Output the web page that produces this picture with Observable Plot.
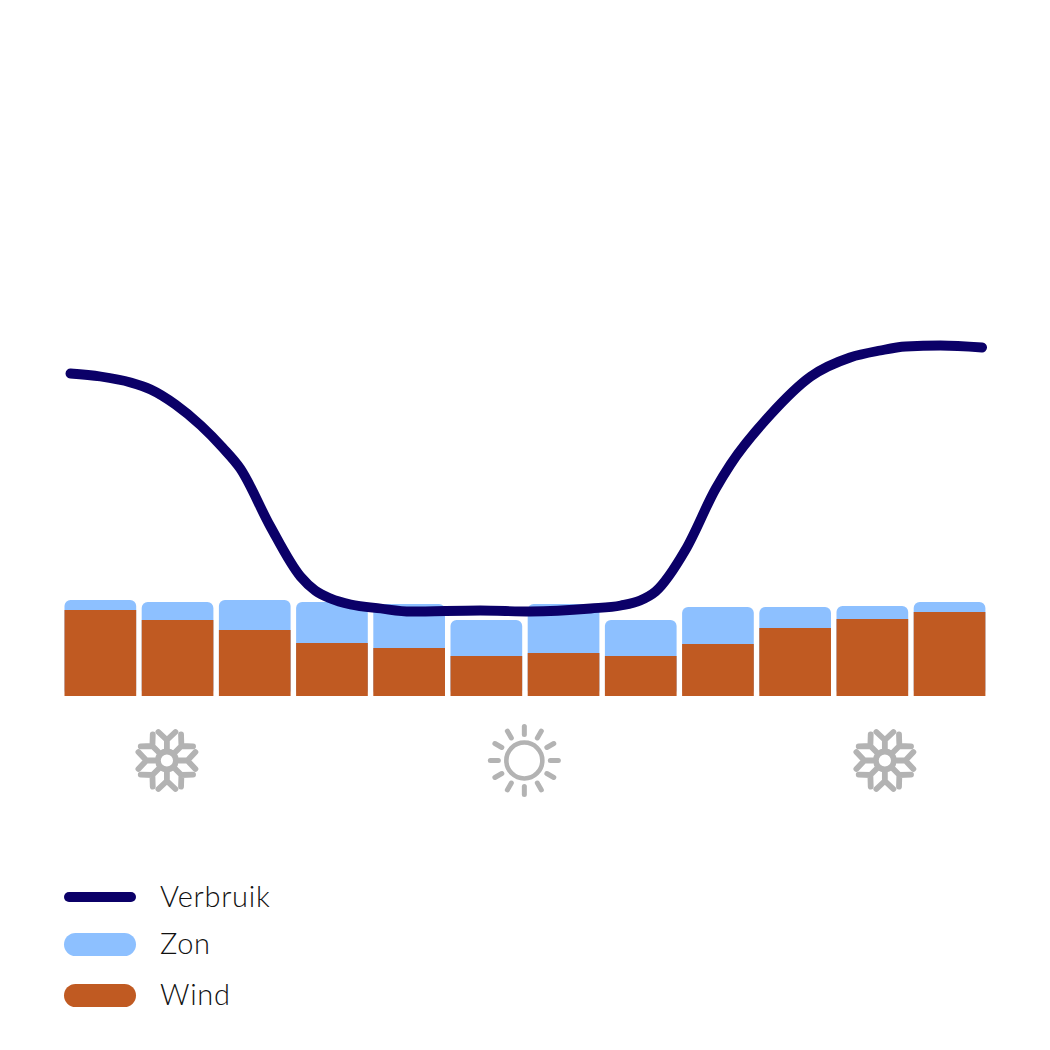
<!DOCTYPE html>
<html lang="nl">
<head>
<meta charset="utf-8">
<style>
  html, body { margin: 0; padding: 0; background: #fff; }
  #chart svg { display: block; }
  #legend { position: relative; height: 200px; font-family: Lato, sans-serif; font-weight: 300; font-size: 29px; letter-spacing: 0.7px; color: #111; }
  .row { position: absolute; left: 64px; display: flex; align-items: center; height: 30px; }
  .sw { width: 72px; border-radius: 12px; margin-right: 24px; }
  .row span { position: relative; top: -2px; }
</style>
</head>
<body>
<div id="chart"></div>
<div id="legend"></div>
<script src="https://cdn.jsdelivr.net/npm/d3@7"></script>
<script src="https://cdn.jsdelivr.net/npm/@observablehq/plot@0.6"></script>
<script>
const months = [0,1,2,3,4,5,6,7,8,9,10,11];
const wind = [86,76,66,53,48,40,43,40,52,68,77,84];
const zon  = [10,18,30,41,44,36,49,36,37,21,13,10];
const verbruikMonth = [.07,.46,.85,1.11,1.43,1.76,2.04,2.27,2.66,3.05,3.24,3.44,3.70,4.09,4.48,5.38,6.03,6.81,7.20,7.45,7.65,8.04,8.43,8.62,9.14,9.66,10.17,10.56,10.89,11.34,11.88];
const verbruik = [323,320,314,307,292,271,249,228,170,120,106,98,92,88,85,86,85,88,91,96,105,147,208,232,282,320,339,346,350,351,349];
const seasonMonth = [1.32,5.95,10.62];
const seasonIcon = ["snow","sun","snow"];
const legendLabels = ["Verbruik","Zon","Wind"];
const colors = {Verbruik:"#0b0068", Zon:"#8dc0ff", Wind:"#c05a22", icon:"#b3b3b3"};

function flake() {
  let s = "";
  for (let a = 0; a < 360; a += 45) {
    s += `<g transform="rotate(${a})"><path d="M0 -12V-20.5M0 -20.5L-8.5 -28.5M0 -20.5L8.5 -28.5"/></g>`;
  }
  return svgUri(s + `<circle r="9"/>`, 5.8, 70);
}
function sun() {
  let s = `<circle r="18" stroke-width="4.6"/>`;
  for (let a = 0; a < 360; a += 30) {
    s += `<path transform="rotate(${a})" d="M0 -26V-34"/>`;
  }
  return svgUri(s, 5, 80);
}
function svgUri(body, sw, size) {
  const h = size / 2;
  const x = `<svg xmlns="http://www.w3.org/2000/svg" viewBox="${-h} ${-h} ${size} ${size}" width="${size}" height="${size}"><g fill="none" stroke="${colors.icon}" stroke-width="${sw}" stroke-linecap="round">${body}</g></svg>`;
  return "data:image/svg+xml;utf8," + encodeURIComponent(x);
}
const iconSrc = {snow: flake(), sun: sun()};
const iconSize = {snow: 70, sun: 80};

const plot = Plot.plot({
  width: 1050, height: 850,
  marginTop: 0, marginBottom: 0, marginLeft: 0, marginRight: 0,
  style: {background: "#fff"},
  x: {domain: [0, 12], range: [64.5, 990.9], axis: null},
  y: {domain: [-154, 696], range: [850, 0], axis: null},
  marks: [
    Plot.rect(months, {x1: d => d, x2: d => d + 1, y1: 0, y2: d => wind[d] + zon[d], insetRight: 5.5, fill: colors.Zon, r: 6}),
    Plot.rect(months, {x1: d => d, x2: d => d + 1, y1: 0, y2: d => wind[d], insetRight: 5.5, fill: colors.Wind}),
    Plot.line(verbruikMonth, {x: d => d, y: (d, i) => verbruik[i], stroke: colors.Verbruik, strokeWidth: 9.8, strokeLinecap: "round", strokeLinejoin: "round", curve: "monotone-x"}),
    Plot.image(seasonMonth, {x: d => d, y: -64, src: (d, i) => iconSrc[seasonIcon[i]], width: (d, i) => iconSize[seasonIcon[i]], height: (d, i) => iconSize[seasonIcon[i]]})
  ]
});
document.getElementById("chart").appendChild(plot);

const legend = document.getElementById("legend");
const rowTop = [32, 79, 130], swH = [10, 23, 23];
legendLabels.forEach((l, i) => {
  const r = document.createElement("div");
  r.className = "row";
  r.style.top = rowTop[i] + "px";
  const sw = document.createElement("div");
  sw.className = "sw";
  sw.style.height = swH[i] + "px";
  sw.style.background = colors[l];
  const t = document.createElement("span");
  t.textContent = l;
  r.append(sw, t);
  legend.appendChild(r);
});
</script>
</body>
</html>
